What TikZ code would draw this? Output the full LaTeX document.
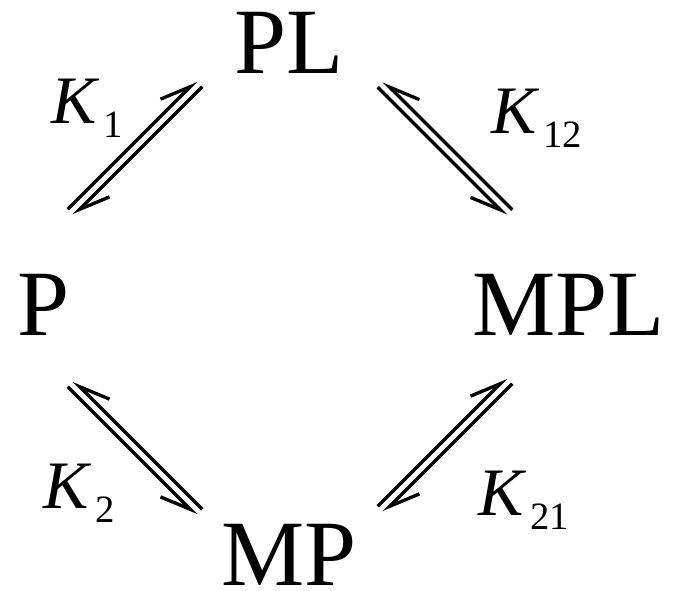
\documentclass[tikz,border=0pt]{standalone}
\usepackage{fontspec}
\setmainfont{Liberation Serif}
\usetikzlibrary{calc,arrows.meta}

\tikzset{
    species/.style={anchor=base, inner sep=0pt, font=\fontsize{26.6}{30}\selectfont},
    rate/.style={anchor=base west, inner sep=0pt, font=\fontsize{19.3}{22}\selectfont},
    harp/.style={line width=0.95pt, -{Straight Barb[#1, length=8.5pt, width=7pt]}},
}
\newcommand{\kc}[1]{\textit{K}\kern1pt\raisebox{-4pt}{\fontsize{11}{12}\selectfont #1}}
\def\gap{1.2pt}
% pair of harpoons, barbs outside
\newcommand{\eqL}[2]{%
    \draw[harp=left] ($(#1)!\gap!90:(#2)$) -- ($(#2)!\gap!-90:(#1)$);
    \draw[harp=left] ($(#2)!\gap!90:(#1)$) -- ($(#1)!\gap!-90:(#2)$);}
\newcommand{\eqR}[2]{%
    \draw[harp=right] ($(#1)!\gap!-90:(#2)$) -- ($(#2)!\gap!90:(#1)$);
    \draw[harp=right] ($(#2)!\gap!-90:(#1)$) -- ($(#1)!\gap!90:(#2)$);}

\begin{document}
\begin{tikzpicture}[x=0.01cm, y=0.01cm]
    \useasboundingbox (0,0) rectangle (678,590);

    % --- 1. Species ---
    \node[species] (PL)  at (289,517) {PL};
    \node[species] (P)   at (44,255)  {P};
    \node[species] (MPL) at (568.5,255) {MPL};
    \node[species] (MP)  at (289,5)   {MP};

    % --- 2. Arrow ends ---
    \coordinate (k1a)  at (70.7,377.7);
    \coordinate (k1b)  at (199.3,506.3);
    \coordinate (k12a) at (380.7,505.8);
    \coordinate (k12b) at (509.3,377.2);
    \coordinate (k2a)  at (70.7,206.3);
    \coordinate (k2b)  at (199.3,77.7);
    \coordinate (k21a) at (380.7,80.7);
    \coordinate (k21b) at (509.3,209.3);

    % --- 3. Equilibria ---
    \eqL{k1a}{k1b}
    \eqR{k12a}{k12b}
    \eqR{k2a}{k2b}
    \eqL{k21a}{k21b}

    % --- 4. Constants ---
    \node[rate] (K1)  at (51,467)  {\kc{1}};
    \node[rate] (K12) at (491,457) {\kc{12}};
    \node[rate] (K2)  at (43,82)   {\kc{2}};
    \node[rate] (K21) at (478,75)  {\kc{21}};
\end{tikzpicture}
\end{document}
